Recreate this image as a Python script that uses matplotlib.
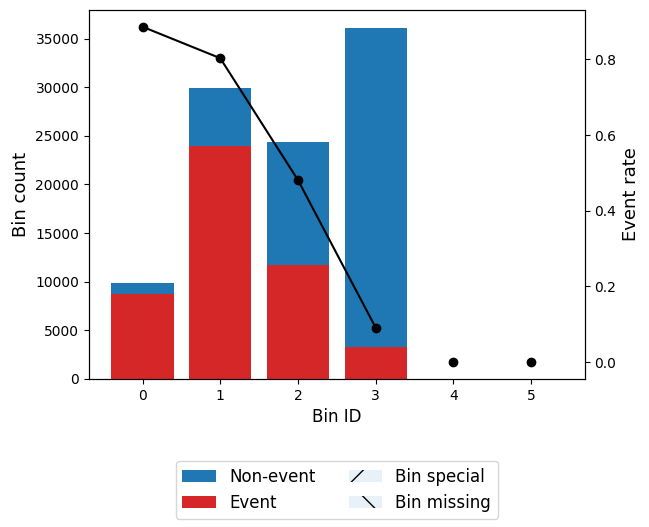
import matplotlib
matplotlib.use("Agg")
import matplotlib.pyplot as plt
import matplotlib.patches as mpatches
import numpy as np

# binning table values
bin_ids = [0, 1, 2, 3, 4, 5]
event = [8720, 24000, 11700, 3280, 0, 0]
non_event = [1130, 5870, 12620, 32850, 0, 0]
event_rate = [0.886, 0.803, 0.481, 0.091, 0.0, 0.0]
n_special = 1
n_missing = 1

n_bins = len(bin_ids)
n_regular = n_bins - n_special - n_missing

fig, ax1 = plt.subplots(figsize=(6.49, 5.27), dpi=100)
fig.subplots_adjust(left=0.137, right=0.901, top=0.981, bottom=0.281)

p2 = ax1.bar(bin_ids, event, color="tab:red")
p1 = ax1.bar(bin_ids, non_event, color="tab:blue", bottom=event)

handles = [p1[0], p2[0]]
labels = ["Non-event", "Event"]

# special and missing bins (empty here)
ax1.bar(bin_ids[n_regular], event[n_regular], color="tab:red", hatch="/")
ax1.bar(bin_ids[n_regular], non_event[n_regular], color="tab:blue",
        bottom=event[n_regular], hatch="/")
ax1.bar(bin_ids[-1], event[-1], color="tab:red", hatch="\\")
ax1.bar(bin_ids[-1], non_event[-1], color="tab:blue",
        bottom=event[-1], hatch="\\")
handles.append(mpatches.Patch(hatch="/", alpha=0.1))
labels.append("Bin special")
handles.append(mpatches.Patch(hatch="\\", alpha=0.1))
labels.append("Bin missing")

ax1.set_xlabel("Bin ID", fontsize=12)
ax1.set_ylabel("Bin count", fontsize=13)

ax2 = ax1.twinx()
ax2.plot(bin_ids[:n_regular], event_rate[:n_regular], linestyle="solid",
         marker="o", color="black")
ax2.plot(bin_ids[n_regular:], event_rate[n_regular:], linestyle="",
         marker="o", color="black")
ax2.set_ylabel("Event rate", fontsize=13)

ax1.set_xticks(bin_ids)

plt.legend(handles, labels, loc="upper center", bbox_to_anchor=(0.5, -0.2),
           ncol=2, fontsize=12)

plt.savefig("out.png", dpi=100)
